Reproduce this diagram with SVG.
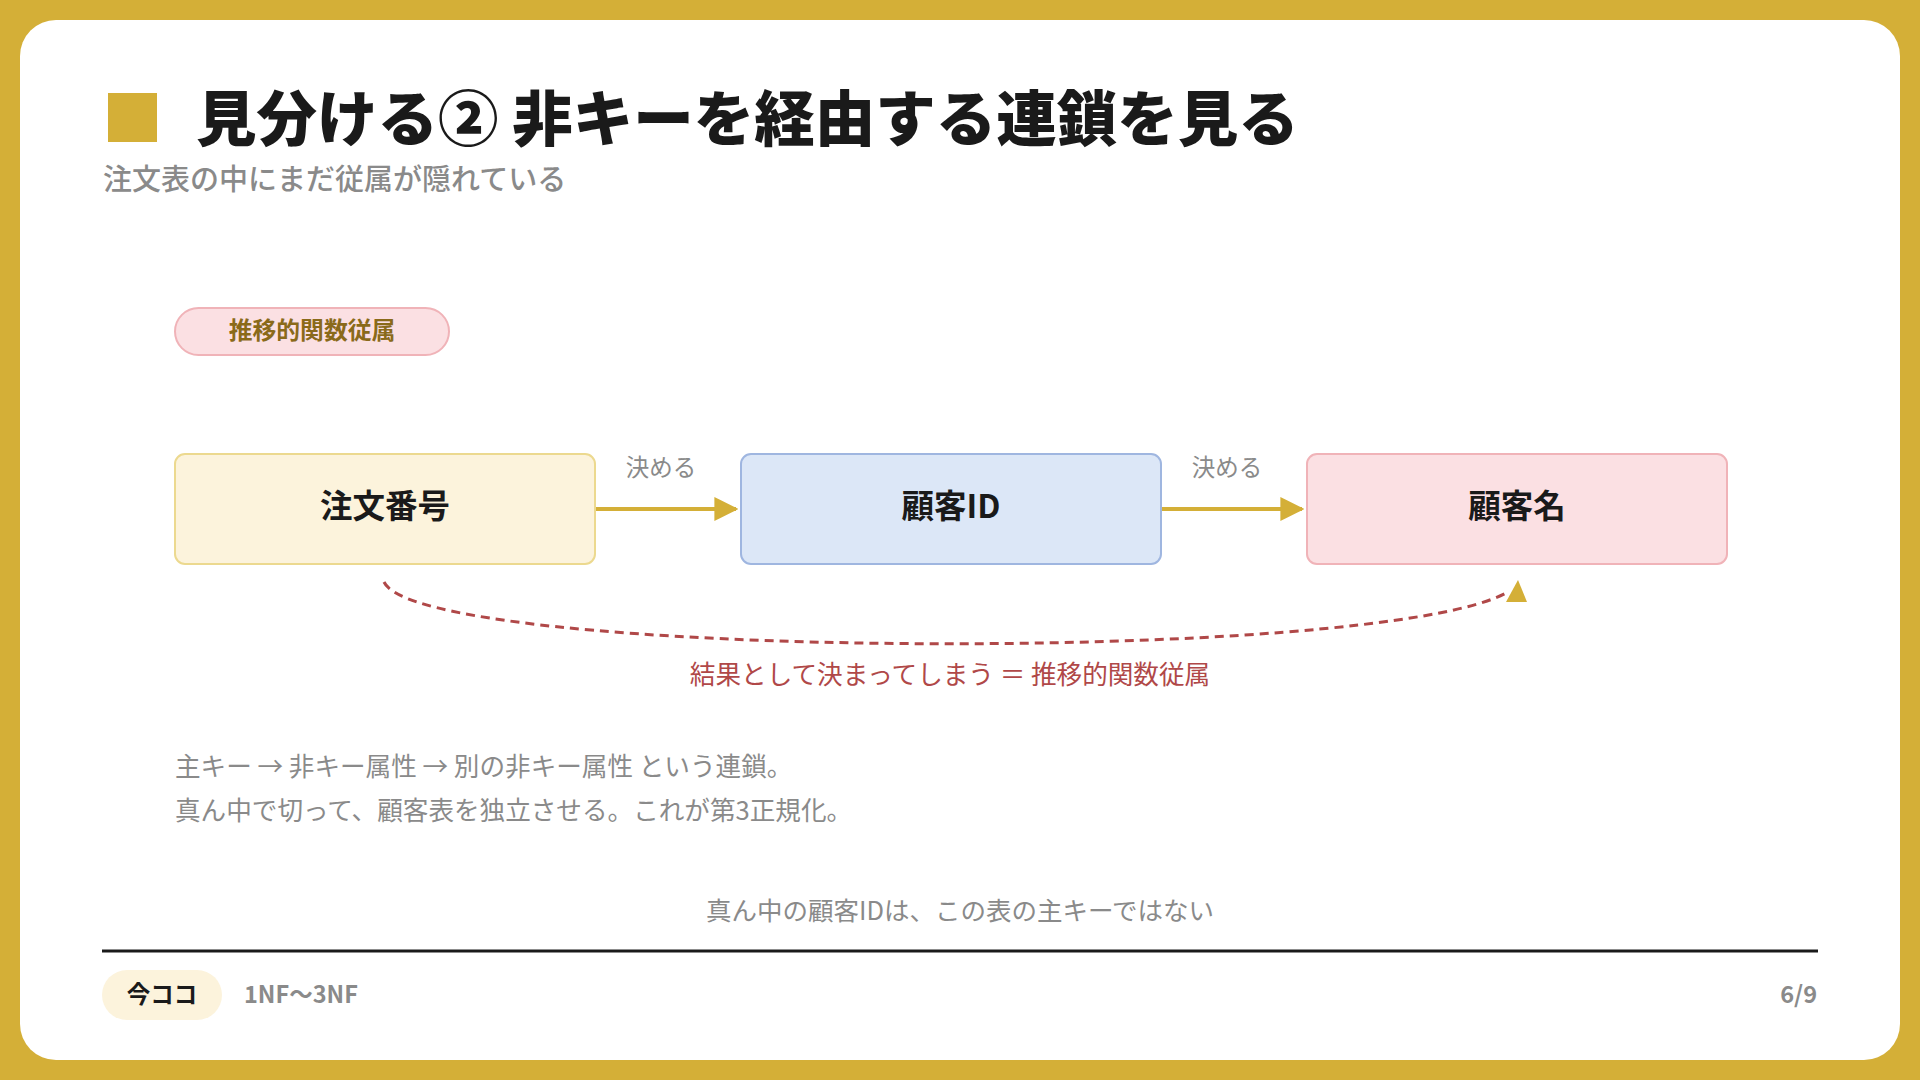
<svg xmlns="http://www.w3.org/2000/svg" width="1920" height="1080" viewBox="0 0 1920 1080">
<defs>
<style>
text{font-family:"Noto Sans CJK JP","Noto Sans",sans-serif}
.title{font-size:60.5px;font-weight:900;fill:#1a1a1a}
.sub{font-size:29px;font-weight:500;fill:#8a8a8a}
.node{stroke-width:2}
.lbl{font-size:32.5px;font-weight:700;fill:#1a1a1a;text-anchor:middle}
.edge{font-size:23.5px;fill:#8a8a8a;text-anchor:middle}
.body{font-size:25.6px;fill:#8a8a8a}
.foot{font-size:23.5px;font-weight:700}
</style>
<marker id="ah" viewBox="0 0 10 10" refX="9" refY="5" markerWidth="6" markerHeight="6" markerUnits="strokeWidth" orient="auto">
<path d="M0,0 L10,5 L0,10 z" fill="#d4af37"/>
</marker>
</defs>
<rect x="0" y="0" width="1920" height="1080" fill="#d4af37"/>
<rect x="20" y="20" width="1880" height="1040" rx="36" fill="#ffffff"/>
<g id="header">
<rect x="108" y="93" width="49" height="49" fill="#d4af37"/>
<text class="title" x="196" y="141">見分ける② 非キーを経由する連鎖を見る</text>
<text class="sub" x="103" y="190">注文表の中にまだ従属が隠れている</text>
</g>
<g id="tag">
<rect x="175" y="308" width="274" height="47" rx="23.5" fill="#fbe0e3" stroke="#f0b3b8" stroke-width="2"/>
<text x="312" y="339" font-size="23.8" font-weight="700" fill="#8a6a1a" text-anchor="middle">推移的関数従属</text>
</g>
<g id="connectors">
<line x1="595" y1="509" x2="736" y2="509" stroke="#d4af37" stroke-width="4" marker-end="url(#ah)"/>
<text class="edge" x="661" y="476">決める</text>
<line x1="1161" y1="509" x2="1302" y2="509" stroke="#d4af37" stroke-width="4" marker-end="url(#ah)"/>
<text class="edge" x="1227" y="476">決める</text>
<path d="M384,582 C420,660 1380,665 1508,592" fill="none" stroke="#b04848" stroke-width="3" stroke-dasharray="9 6"/>
<path d="M1518,580 L1527,602 L1506,602 z" fill="#d4af37"/>
<text x="950" y="684" font-size="25.6" fill="#b04848" text-anchor="middle">結果として決まってしまう ＝ 推移的関数従属</text>
</g>
<g id="node-order">
<rect class="node" x="175" y="454" width="420" height="110" rx="10" fill="#fcf3dc" stroke="#ecd98f"/>
<text class="lbl" x="385" y="518">注文番号</text>
</g>
<g id="node-custid">
<rect class="node" x="741" y="454" width="420" height="110" rx="10" fill="#dce7f7" stroke="#9fb6e0"/>
<text class="lbl" x="951" y="518">顧客ID</text>
</g>
<g id="node-custname">
<rect class="node" x="1307" y="454" width="420" height="110" rx="10" fill="#fbe0e3" stroke="#f0b3b8"/>
<text class="lbl" x="1517" y="518">顧客名</text>
</g>
<g id="body">
<text class="body" x="175" y="776">主キー → 非キー属性 → 別の非キー属性 という連鎖。</text>
<text class="body" x="175" y="820">真ん中で切って、顧客表を独立させる。これが第3正規化。</text>
<text x="960" y="920" font-size="25.5" fill="#8a8a8a" text-anchor="middle">真ん中の顧客IDは、この表の主キーではない</text>
</g>
<g id="footer">
<line x1="102" y1="951" x2="1818" y2="951" stroke="#1a1a1a" stroke-width="3"/>
<rect x="102" y="970" width="120" height="50" rx="25" fill="#fcf3dc"/>
<text class="foot" x="162" y="1003" fill="#1a1a1a" text-anchor="middle">今ココ</text>
<text class="foot" x="244" y="1003" fill="#8a8a8a">1NF〜3NF</text>
<text class="foot" x="1817" y="1003" fill="#8a8a8a" text-anchor="end">6/9</text>
</g>
</svg>
